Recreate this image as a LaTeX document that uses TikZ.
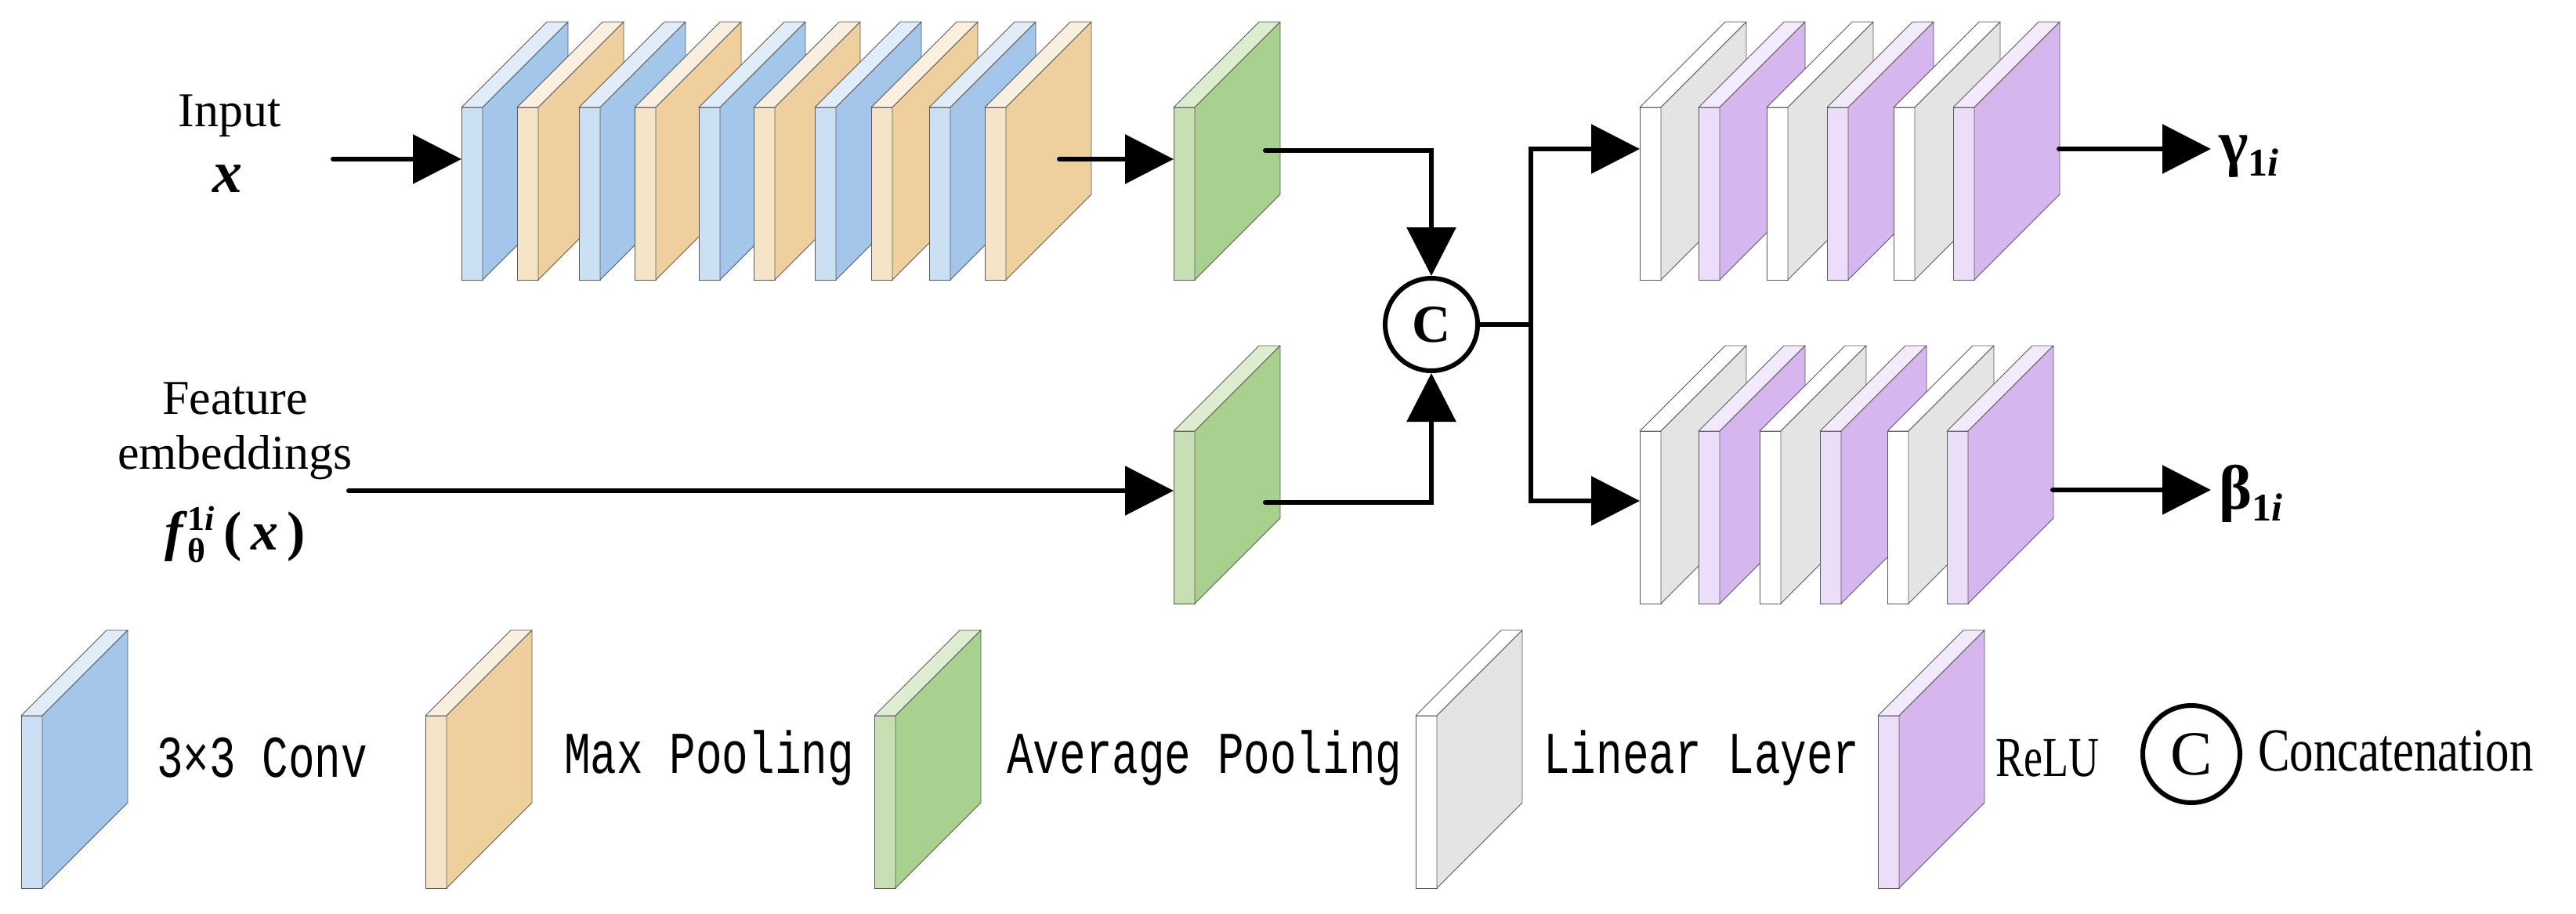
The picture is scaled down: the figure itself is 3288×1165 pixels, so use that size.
\documentclass[tikz,border=0pt]{standalone}
\usepackage{fontspec}
\setmainfont{Liberation Serif}
\setmonofont{Liberation Mono}
\usetikzlibrary{arrows.meta}
\definecolor{bS}{HTML}{A3C6EA}\definecolor{bF}{HTML}{CCE0F4}\definecolor{bT}{HTML}{E0ECF8}
\definecolor{oS}{HTML}{EFCF9E}\definecolor{oF}{HTML}{F6E4C8}\definecolor{oT}{HTML}{FBEFE0}
\definecolor{gS}{HTML}{A8D08E}\definecolor{gF}{HTML}{C6E0B4}\definecolor{gT}{HTML}{DCEDD0}
\definecolor{lS}{HTML}{E4E4E4}\definecolor{lF}{HTML}{FFFFFF}\definecolor{lT}{HTML}{FFFFFF}
\definecolor{pS}{HTML}{D6B6EE}\definecolor{pF}{HTML}{ECDEF8}\definecolor{pT}{HTML}{F3EAFB}
\newcommand\lyr[3]{% x, ytop, colour prefix
  \filldraw[face,fill=#3F] (#1,#2) rectangle ++(27,220);
  \filldraw[face,fill=#3T] (#1,#2) -- ++(109,-109) -- ++(27,0) -- ++(-109,109) -- cycle;
  \filldraw[face,fill=#3S] (#1+27,#2) -- ++(109,-109) -- ++(0,220) -- ++(-109,109) -- cycle;}
\begin{document}
\begin{tikzpicture}[x=1pt,y=-1pt,
  face/.style={draw=black!65,line width=0.9pt,line join=round},
  con/.style={line width=6pt,line cap=round,line join=miter},
  arr/.style={con,-{Triangle[length=62pt,width=62pt]}},
  lab/.style={font=\fontsize{62}{70}\selectfont,align=center,inner sep=0},
  leg/.style={font=\ttfamily\fontsize{56}{60}\selectfont,anchor=west,inner sep=0,yscale=1.35},
  catc/.style={circle,draw,line width=6pt,minimum size=118pt,inner sep=0,font=\fontsize{68}{68}\selectfont\bfseries}]
\useasboundingbox (0,0) rectangle (3288,1165);
% top chain
\foreach \x/\c in {589/b,660/o,739/b,810/o,892/b,962/o,1040/b,1112/o,1186/b,1257/o}{\lyr{\x}{137}{\c}}
% green
\lyr{1498}{137}{g}
\lyr{1498}{550}{g}
% right chains
\foreach \x/\c in {2093/l,2168/p,2255/l,2332/p,2417/l,2493/p}{\lyr{\x}{137}{\c}}
\foreach \x/\c in {2093/l,2168/p,2246/l,2323/p,2409/l,2485/p}{\lyr{\x}{550}{\c}}
% labels
\node[lab] (inp) at (293,148) {Input};
\node[lab,font=\fontsize{76}{76}\selectfont\bfseries\itshape] (xin) at (290,228) {x};
\node[lab] (feat) at (300,550) {Feature\\embeddings};
\node[lab,font=\fontsize{70}{70}\selectfont\bfseries] (fx) at (300,682) {\textit{f}\rlap{\raisebox{-0.5ex}{\fontsize{44}{44}\selectfont θ}}\raisebox{0.8ex}{\fontsize{44}{44}\selectfont 1\textit{i}}\,(\,\textit{x}\,)};
% coordinates
\coordinate (in0) at (425,203);
\coordinate (b1w) at (589,203);
\coordinate (o5c) at (1352,203);
\coordinate (g1w) at (1498,203);
\coordinate (f0) at (445,626);
\coordinate (g2w) at (1498,626);
\coordinate (g1c) at (1615,192);
\coordinate (g2c) at (1615,641);
\node[catc] (cat) at (1827,414) {C};
\coordinate (br) at (1954,414);
\coordinate (l1w) at (2093,190);
\coordinate (l2w) at (2093,639);
\coordinate (p1c) at (2628,190);
\coordinate (p2c) at (2620,625);
\coordinate (gt) at (2822,190);
\coordinate (bt) at (2822,625);
\draw[arr] (in0) -- (b1w);
\draw[arr] (o5c) -- (g1w);
\draw[arr] (f0) -- (g2w);
\draw[arr] (g1c) -| (cat.north);
\draw[arr] (g2c) -| (cat.south);
\draw[con] (cat.east) -- (br);
\draw[arr] (br) |- (l1w);
\draw[arr] (br) |- (l2w);
\draw[arr] (p1c) -- (gt);
\draw[arr] (p2c) -- (bt);
\node[anchor=west,inner sep=0,font=\fontsize{80}{80}\selectfont\bfseries] (gam) at (2832,200) {γ\raisebox{-0.4ex}{\fontsize{50}{50}\selectfont 1\textit{i}}};
\node[anchor=west,inner sep=0,font=\fontsize{80}{80}\selectfont\bfseries] (bet) at (2832,630) {β\raisebox{-0.4ex}{\fontsize{50}{50}\selectfont 1\textit{i}}};
% legend
\lyr{27}{913}{b}
\lyr{543}{913}{o}
\lyr{1116}{913}{g}
\lyr{1807}{913}{l}
\lyr{2397}{913}{p}
\node[leg] (t1) at (200,967) {3×3 Conv};
\node[leg] (t2) at (720,967) {Max Pooling};
\node[leg] (t3) at (1285,967) {Average Pooling};
\node[leg] (t4) at (1970,967) {Linear Layer};
\node[anchor=west,inner sep=0,font=\fontsize{72}{72}\selectfont,xscale=0.75] (t5) at (2547,967) {ReLU};
\node[catc,font=\fontsize{80}{80}\selectfont,minimum size=124pt,line width=6pt] (cleg) at (2797,962) {C};
\node[anchor=west,inner sep=0,font=\fontsize{78}{78}\selectfont,xscale=0.78] (t6) at (2882,958) {Concatenation};
\end{tikzpicture}
\end{document}
